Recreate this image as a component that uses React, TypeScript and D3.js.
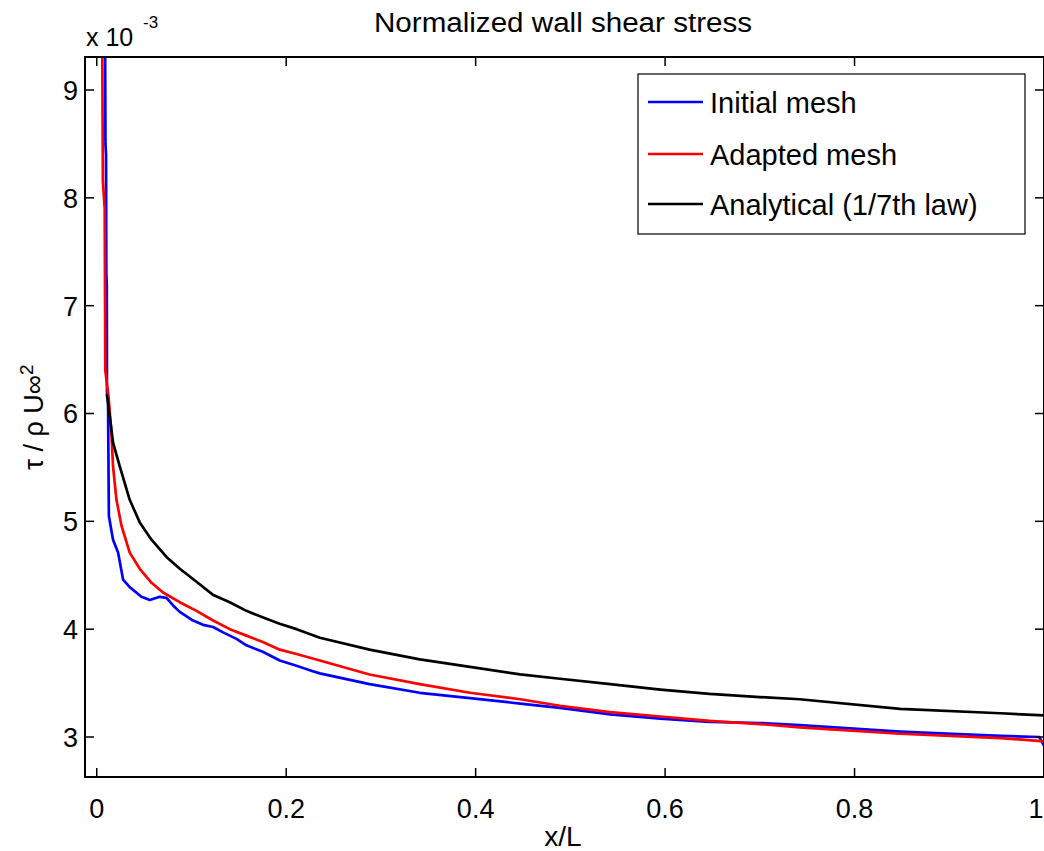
import React from 'react';
import * as d3 from 'd3';

// ---- data (values of tau / rho U^2, in units of 1e-3) ----
const initialX = [0.0088, 0.0092, 0.0098, 0.0101, 0.0106, 0.0108, 0.0119, 0.0128, 0.0172, 0.0225, 0.0278, 0.0348, 0.0472, 0.056, 0.0665, 0.0736, 0.0806, 0.0876, 0.1017, 0.1122, 0.1228, 0.1334, 0.1475, 0.158, 0.1753, 0.1932, 0.2109, 0.2281, 0.2355, 0.288, 0.341, 0.394, 0.447, 0.489, 0.542, 0.595, 0.647, 0.7, 0.742, 0.848, 0.954, 0.995, 1.0];
const initialY = [9.45, 8.5, 8.4, 7.3, 7.2, 6.2, 6.13, 5.05, 4.83, 4.71, 4.46, 4.39, 4.3, 4.27, 4.3, 4.29, 4.22, 4.16, 4.08, 4.04, 4.02, 3.97, 3.91, 3.85, 3.79, 3.71, 3.66, 3.61, 3.59, 3.49, 3.41, 3.36, 3.31, 3.27, 3.21, 3.17, 3.14, 3.13, 3.11, 3.05, 3.01, 3.0, 2.92];

const adaptedX = [0.0058, 0.0065, 0.0084, 0.0090, 0.0125, 0.0155, 0.0172, 0.0208, 0.0261, 0.0348, 0.0454, 0.0578, 0.07, 0.0876, 0.1053, 0.1228, 0.1404, 0.158, 0.1753, 0.1932, 0.2109, 0.2355, 0.288, 0.341, 0.394, 0.447, 0.489, 0.542, 0.595, 0.647, 0.7, 0.742, 0.848, 0.954, 1.0];
const adaptedY = [9.45, 8.15, 7.9, 6.4, 6.15, 5.82, 5.51, 5.2, 4.96, 4.71, 4.56, 4.43, 4.34, 4.25, 4.17, 4.08, 4.0, 3.94, 3.88, 3.81, 3.77, 3.71, 3.58, 3.49, 3.41, 3.35, 3.29, 3.23, 3.19, 3.15, 3.12, 3.09, 3.03, 2.99, 2.96];

const analyticalX = [0.0106, 0.0119, 0.0172, 0.0243, 0.0348, 0.0454, 0.0578, 0.0736, 0.0877, 0.1053, 0.1225, 0.1404, 0.158, 0.175, 0.193, 0.211, 0.2355, 0.288, 0.341, 0.394, 0.447, 0.489, 0.542, 0.595, 0.647, 0.7, 0.742, 0.848, 0.954, 1.0];
const analyticalY = [6.18, 6.1, 5.73, 5.51, 5.2, 4.99, 4.83, 4.67, 4.56, 4.44, 4.32, 4.25, 4.17, 4.11, 4.05, 4.0, 3.92, 3.81, 3.72, 3.65, 3.58, 3.54, 3.49, 3.44, 3.4, 3.37, 3.35, 3.26, 3.22, 3.2];

const seriesNames = ['Initial mesh', 'Adapted mesh', 'Analytical (1/7th law)'];
const seriesColors = ['#0000ff', '#ff0000', '#000000'];

const xTicks = [0, 0.2, 0.4, 0.6, 0.8, 1];
const xTickLabels = ['0', '0.2', '0.4', '0.6', '0.8', '1'];
const yTicks = [3, 4, 5, 6, 7, 8, 9];
const yTickLabels = ['3', '4', '5', '6', '7', '8', '9'];

const titleText = 'Normalized wall shear stress';
const xLabelText = 'x/L';

const FONT = '"Liberation Sans", Arial, Helvetica, sans-serif';

export default function App() {
  const W = 1044, H = 851;
  const left = 85, right = 1044, top = 57, bottom = 777;
  const x = d3.scaleLinear().domain([-0.0124, 1]).range([left, right]);
  const y = d3.scaleLinear().domain([2.629, 9.306]).range([bottom, top]);
  const line = d3.line<[number, number]>().x(d => x(d[0])).y(d => y(d[1]));

  const series = [
    initialX.map((v, i) => [v, initialY[i]] as [number, number]),
    adaptedX.map((v, i) => [v, adaptedY[i]] as [number, number]),
    analyticalX.map((v, i) => [v, analyticalY[i]] as [number, number]),
  ];

  const tickLen = 9;
  const legX = 638, legY = 74, legW = 387, legH = 160;
  const legRows = [102, 154, 204];

  return (
    <svg width={W} height={H} style={{ position: 'absolute', left: 0, top: 0, background: '#fff' }} fontFamily={FONT}>
      <rect x={0} y={0} width={W} height={H} fill="#fff" />
      <defs>
        <clipPath id="plotclip">
          <rect x={left} y={top} width={right - left} height={bottom - top} />
        </clipPath>
      </defs>
      {/* data lines */}
      <g clipPath="url(#plotclip)">
        {series.map((s, i) => (
          <path key={i} d={line(s) || ''} fill="none" stroke={seriesColors[i]} strokeWidth={2.7} strokeLinejoin="round" />
        ))}
      </g>
      {/* axes box */}
      <rect x={left} y={top} width={right - left} height={bottom - top} fill="none" stroke="#000" strokeWidth={2} />
      {/* x ticks */}
      {xTicks.map((t, i) => (
        <g key={'xt' + i}>
          <line x1={x(t)} x2={x(t)} y1={bottom} y2={bottom - tickLen} stroke="#000" strokeWidth={1.5} />
          <line x1={x(t)} x2={x(t)} y1={top} y2={top + tickLen} stroke="#000" strokeWidth={1.5} />
          <text x={Math.min(x(t), 1036)} y={818} fontSize={27} textAnchor="middle">{xTickLabels[i]}</text>
        </g>
      ))}
      {/* y ticks */}
      {yTicks.map((t, i) => (
        <g key={'yt' + i}>
          <line x1={left} x2={left + tickLen} y1={y(t)} y2={y(t)} stroke="#000" strokeWidth={1.5} />
          <line x1={right} x2={right - tickLen} y1={y(t)} y2={y(t)} stroke="#000" strokeWidth={1.5} />
          <text x={78} y={y(t) + 10} fontSize={27} textAnchor="end">{yTickLabels[i]}</text>
        </g>
      ))}
      {/* exponent */}
      <text x={86} y={46} fontSize={25}>x 10</text>
      <text x={143} y={28} fontSize={17}>-3</text>
      {/* title */}
      <text x={563} y={32} fontSize={27} textAnchor="middle" textLength={378} lengthAdjust="spacingAndGlyphs">{titleText}</text>
      {/* x label */}
      <text x={563} y={846} fontSize={28} textAnchor="middle">{xLabelText}</text>
      {/* y label */}
      <text transform={`translate(43,${(top + bottom) / 2}) rotate(-90)`} fontSize={27} textAnchor="middle">
        τ / ρ U∞<tspan dy={-10} fontSize={19}>2</tspan>
      </text>
      {/* legend */}
      <rect x={legX} y={legY} width={legW} height={legH} fill="#fff" stroke="#000" strokeWidth={1.2} />
      {seriesNames.map((n, i) => (
        <g key={'lg' + i}>
          <line x1={648} x2={703} y1={legRows[i]} y2={legRows[i]} stroke={seriesColors[i]} strokeWidth={2.7} />
          <text x={710} y={legRows[i] + 11} fontSize={29}>{n}</text>
        </g>
      ))}
    </svg>
  );
}
